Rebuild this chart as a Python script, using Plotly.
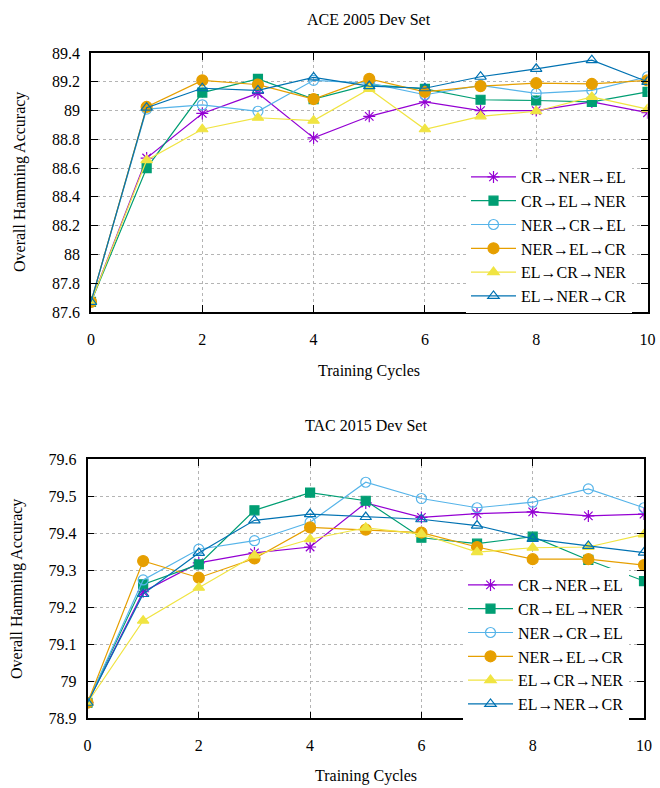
import plotly.graph_objects as go

cycles = [0, 1, 2, 3, 4, 5, 6, 7, 8, 9, 10]
names = ["CR→NER→EL", "CR→EL→NER", "NER→CR→EL", "NER→EL→CR", "EL→CR→NER", "EL→NER→CR"]

# ACE 2005 Dev Set
ace_cr_ner_el = [87.67, 88.67, 88.98, 89.12, 88.81, 88.96, 89.06, 89.00, 89.00, 89.06, 88.985]
ace_cr_el_ner = [87.67, 88.60, 89.125, 89.22, 89.08, 89.18, 89.15, 89.075, 89.07, 89.06, 89.13]
ace_ner_cr_el = [87.67, 89.01, 89.04, 88.995, 89.21, 89.19, 89.11, 89.175, 89.12, 89.14, 89.235]
ace_ner_el_cr = [87.67, 89.025, 89.21, 89.18, 89.08, 89.22, 89.13, 89.17, 89.19, 89.185, 89.21]
ace_el_cr_ner = [87.67, 88.655, 88.87, 88.95, 88.93, 89.15, 88.87, 88.96, 88.995, 89.095, 89.01]
ace_el_ner_cr = [87.67, 89.02, 89.155, 89.14, 89.23, 89.17, 89.155, 89.235, 89.29, 89.35, 89.20]

# TAC 2015 Dev Set
tac_cr_ner_el = [78.942, 79.242, 79.32, 79.347, 79.363, 79.482, 79.443, 79.453, 79.458, 79.447, 79.452]
tac_cr_el_ner = [78.942, 79.262, 79.316, 79.462, 79.51, 79.488, 79.388, 79.372, 79.391, 79.328, 79.271]
tac_ner_cr_el = [78.942, 79.274, 79.357, 79.38, 79.43, 79.538, 79.494, 79.469, 79.484, 79.52, 79.469]
tac_ner_el_cr = [78.942, 79.325, 79.28, 79.332, 79.416, 79.41, 79.402, 79.363, 79.33, 79.33, 79.314]
tac_el_cr_ner = [78.942, 79.164, 79.253, 79.34, 79.384, 79.415, 79.398, 79.349, 79.361, 79.363, 79.397]
tac_el_ner_cr = [78.942, 79.236, 79.347, 79.435, 79.452, 79.444, 79.438, 79.421, 79.385, 79.366, 79.348]

x_ticks = [0, 2, 4, 6, 8, 10]
x_tick_labels = ["0", "2", "4", "6", "8", "10"]
ace_y_ticks = [87.6, 87.8, 88.0, 88.2, 88.4, 88.6, 88.8, 89.0, 89.2, 89.4]
ace_y_labels = ["87.6", "87.8", "88", "88.2", "88.4", "88.6", "88.8", "89", "89.2", "89.4"]
tac_y_ticks = [78.9, 79.0, 79.1, 79.2, 79.3, 79.4, 79.5, 79.6]
tac_y_labels = ["78.9", "79", "79.1", "79.2", "79.3", "79.4", "79.5", "79.6"]

ace_series = [ace_cr_ner_el, ace_cr_el_ner, ace_ner_cr_el, ace_ner_el_cr, ace_el_cr_ner, ace_el_ner_cr]
tac_series = [tac_cr_ner_el, tac_cr_el_ner, tac_ner_cr_el, tac_ner_el_cr, tac_el_cr_ner, tac_el_ner_cr]

colors = ["#9400D3", "#009E73", "#56B4E9", "#E69F00", "#F0E442", "#0072B2"]
symbols = ["asterisk-open", "square", "circle-open", "circle", "triangle-up", "triangle-up-open"]
sizes = [10, 9, 10, 11, 10, 10]

FONT = "Liberation Serif"
W, H = 660, 788

fig = go.Figure()

for i in range(6):
    fig.add_trace(go.Scatter(
        x=cycles, y=ace_series[i], name=names[i], mode="lines+markers",
        line=dict(color=colors[i], width=1.2),
        marker=dict(symbol=symbols[i], size=sizes[i], color=colors[i],
                    line=dict(color=colors[i], width=1.2)),
        xaxis="x", yaxis="y", legend="legend"))
for i in range(6):
    fig.add_trace(go.Scatter(
        x=cycles, y=tac_series[i], name=names[i], mode="lines+markers",
        line=dict(color=colors[i], width=1.2),
        marker=dict(symbol=symbols[i], size=sizes[i], color=colors[i],
                    line=dict(color=colors[i], width=1.2)),
        xaxis="x2", yaxis="y2", legend="legend2"))

def px_x(p):
    return p / W

def px_y(p):
    return 1 - p / H

axis_common = dict(
    showline=True, linecolor="black", linewidth=1.5, mirror="ticks",
    ticks="inside", ticklen=7, tickcolor="black", tickwidth=1,
    showgrid=True, gridcolor="#b4b4b4", griddash="dot", gridwidth=1,
    zeroline=False, automargin=False,
    tickfont=dict(family=FONT, size=16, color="black"),
)

fig.update_layout(
    width=W, height=H,
    margin=dict(l=0, r=0, t=0, b=0, autoexpand=False),
    paper_bgcolor="white", plot_bgcolor="white",
    font=dict(family=FONT, size=16, color="black"),
    xaxis=dict(domain=[px_x(91), px_x(647.5)], range=[0, 10], anchor="y",
               tickvals=x_ticks, ticktext=x_tick_labels, ticklabelstandoff=12, **axis_common),
    yaxis=dict(domain=[px_y(312), px_y(53)], range=[87.6, 89.4], anchor="x",
               tickvals=ace_y_ticks, ticktext=ace_y_labels, ticklabelstandoff=6, **axis_common),
    xaxis2=dict(domain=[px_x(87.5), px_x(644)], range=[0, 10], anchor="y2",
                tickvals=x_ticks, ticktext=x_tick_labels, ticklabelstandoff=12, **axis_common),
    yaxis2=dict(domain=[px_y(718.3), px_y(459.3)], range=[78.9, 79.6], anchor="x2",
                tickvals=tac_y_ticks, ticktext=tac_y_labels, ticklabelstandoff=6, **axis_common),
    legend=dict(x=px_x(632), xanchor="right", y=px_y(160), yanchor="top",
                bgcolor="white", borderwidth=0, font=dict(family=FONT, size=16, color="black"),
                itemwidth=45, tracegroupgap=0),
    legend2=dict(x=px_x(629), xanchor="right", y=px_y(568), yanchor="top",
                 bgcolor="white", borderwidth=0, font=dict(family=FONT, size=16, color="black"),
                 itemwidth=45, tracegroupgap=0),
)

def label(text, xp, yp, angle=0):
    return dict(text=text, x=px_x(xp), y=px_y(yp), xref="paper", yref="paper",
                xanchor="center", yanchor="middle", showarrow=False, textangle=angle,
                font=dict(family=FONT, size=16, color="black"))

annotations = [
    label("ACE 2005 Dev Set", 369, 19),
    label("Training Cycles", 369, 371),
    label("Overall Hamming Accuracy", 20, 182, -90),
    label("TAC 2015 Dev Set", 366, 425),
    label("Training Cycles", 366, 776),
    label("Overall Hamming Accuracy", 17, 589, -90),
]
fig.update_layout(annotations=annotations)

fig.write_html("out.html",
               config={"displayModeBar": False},
               post_script="document.body.style.margin='0';document.body.style.padding='0';")
